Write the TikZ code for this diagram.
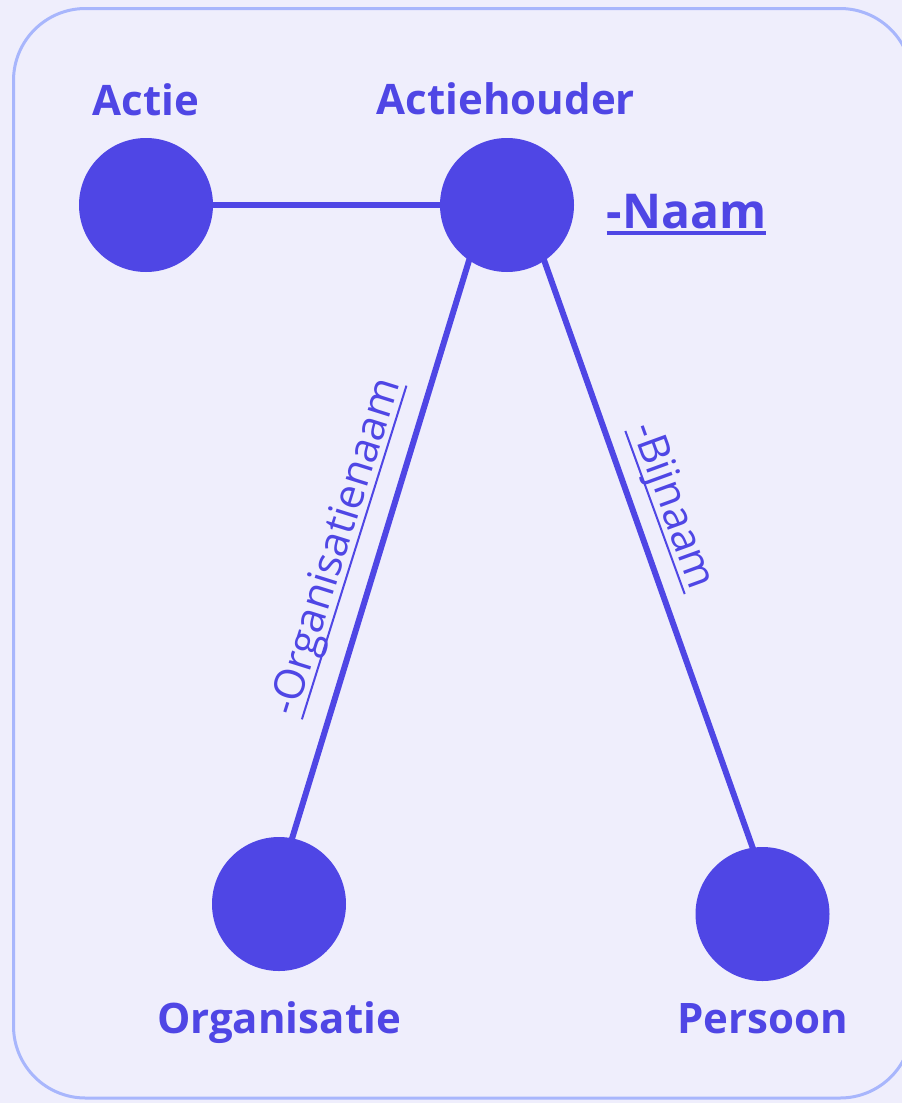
\documentclass[tikz,border=0pt]{standalone}
\usepackage{fontspec}
\setmainfont{Open Sans}
\usetikzlibrary{backgrounds}
\definecolor{indigo}{RGB}{79,70,229}
\definecolor{lavender}{RGB}{239,238,252}
\definecolor{frameblue}{RGB}{168,182,252}
% underlined text: #1 depth of the rule, #2 its thickness
\newcommand{\ulined}[3]{\setbox0=\hbox{#3}\rlap{\rule[-#1]{\wd0}{#2}}\box0}

\begin{document}
\begin{tikzpicture}[x=1pt, y=-1pt,
    entity/.style={circle, fill=indigo, inner sep=0pt, minimum size=134pt},
    title/.style={text=indigo, font=\fontsize{42}{50}\selectfont\bfseries, anchor=base, inner sep=0pt},
    attr/.style={text=indigo, font=\fontsize{42}{50}\selectfont, anchor=base, inner sep=0pt},
    link/.style={draw=indigo, line width=6pt}]

	\useasboundingbox (0,0) rectangle (902,1103);

	\node[entity] (actie) at (146,205) {};
	\node[entity] (ah) at (507,205) {};
	\node[entity] (org) at (279,904) {};
	\node[entity] (pers) at (762.5,914) {};

	\node[title] (actielabel) at (146,115) {Actie};
	\node[title] (ahlabel) at (506,114) {Actiehouder};
	\node[title] (orglabel) at (279,1033) {Organisatie};
	\node[title] (perslabel) at (762.5,1033) {Persoon};
	\node[title, font=\fontsize{48}{56}\selectfont\bfseries] (naam) at (686.5,228) {\ulined{6.5pt}{3.5pt}{-Naam}};

	\node[attr, rotate=72.6] (orgnaam) at (347.5,550.4) {\ulined{8pt}{2pt}{-Organisatienaam}};
	\node[attr, rotate=-70] (bijnaam) at (661.6,510.1) {\ulined{8pt}{2pt}{-Bijnaam}};

	\begin{scope}[on background layer]
	\fill[lavender] (0,0) rectangle (902,1103);
	\draw[frameblue, line width=3pt, rounded corners=72pt] (13.5,8.5) rectangle (912,1098);
	\draw[link] (actie) -- (ah);
	\draw[link] ([xshift=-21pt]ah.center) -- ([xshift=-7pt]org.center);
	\draw[link] ([xshift=17.5pt]ah.center) -- ([xshift=13.7pt]pers.center);
	\end{scope}
\end{tikzpicture}
\end{document}
